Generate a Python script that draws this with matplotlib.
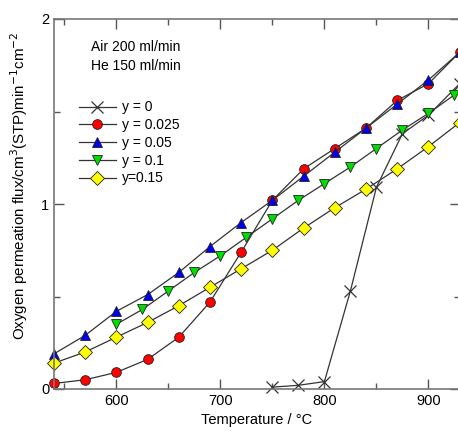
import numpy as np
import matplotlib
matplotlib.use("Agg")
import matplotlib.pyplot as plt
from matplotlib.ticker import MultipleLocator

plt.rcParams['font.family'] = ['Liberation Sans', 'DejaVu Sans']

# --- data ---
t_y0 = [750, 775, 800, 825, 850, 875, 900, 930]
f_y0 = [0.01, 0.02, 0.04, 0.53, 1.09, 1.38, 1.48, 1.65]

t_y025 = [540, 570, 600, 630, 660, 690, 720, 750, 780, 810, 840, 870, 900, 930]
f_y025 = [0.03, 0.05, 0.09, 0.16, 0.28, 0.47, 0.74, 1.02, 1.19, 1.30, 1.41, 1.56, 1.65, 1.82]

t_y05 = [540, 570, 600, 630, 660, 690, 720, 750, 780, 810, 840, 870, 900, 930]
f_y05 = [0.19, 0.29, 0.42, 0.51, 0.63, 0.77, 0.90, 1.02, 1.15, 1.28, 1.41, 1.54, 1.67, 1.82]

t_y1 = [600, 625, 650, 675, 700, 725, 750, 775, 800, 825, 850, 875, 900, 925]
f_y1 = [0.35, 0.43, 0.53, 0.63, 0.72, 0.82, 0.92, 1.02, 1.11, 1.20, 1.30, 1.40, 1.49, 1.59]

t_y15 = [540, 570, 600, 630, 660, 690, 720, 750, 780, 810, 840, 870, 900, 930]
f_y15 = [0.14, 0.20, 0.28, 0.36, 0.45, 0.55, 0.65, 0.75, 0.87, 0.98, 1.08, 1.19, 1.31, 1.44]

fig = plt.figure(figsize=(4.58, 4.33), dpi=100)
ax = fig.add_axes([54 / 458, 1 - 389 / 433, 0.8856, (389 - 19) / 433])

lc = '#333333'
common = dict(color=lc, lw=0.9, clip_on=False)
ax.plot(t_y0, f_y0, marker='x', ms=9, mew=0.9, mec='#333333', label='y = 0', **common)
ax.plot(t_y025, f_y025, marker='o', ms=7, mfc='red', mec='#222222', mew=0.6,
        label='y = 0.025', **common)
ax.plot(t_y05, f_y05, marker='^', ms=7.5, mfc='#0000ee', mec='#222222', mew=0.6,
        label='y = 0.05', **common)
ax.plot(t_y1, f_y1, marker='v', ms=7.5, mfc='#00dd00', mec='#222222', mew=0.6,
        label='y = 0.1', **common)
ax.plot(t_y15, f_y15, marker='D', ms=7, mfc='#ffff00', mec='#222222', mew=0.6,
        label='y=0.15', **common)

ax.set_xlim(540, 930)
ax.set_ylim(0, 2)
ax.xaxis.set_major_locator(MultipleLocator(100))
ax.xaxis.set_minor_locator(MultipleLocator(50))
ax.yaxis.set_major_locator(MultipleLocator(1))
ax.yaxis.set_minor_locator(MultipleLocator(0.5))
ax.tick_params(which='both', direction='in', top=True, right=True, colors='#555555',
               labelcolor='black', labelsize=10.5)
ax.tick_params(which='major', length=7, width=1)
ax.tick_params(which='minor', length=4, width=1)
for s in ax.spines.values():
    s.set_color('#777777')
    s.set_linewidth(1.2)

ax.set_xlabel('Temperature / °C', fontsize=10.5, labelpad=4)
ax.set_ylabel('Oxygen permeation flux/cm$^3$(STP)min$^{-1}$cm$^{-2}$', fontsize=10.9)
ax.yaxis.set_label_coords(-0.058, 0.55)

ax.text(0.202, 0.899, 'Air 200 ml/min\nHe 150 ml/min', transform=ax.transAxes,
        ha='center', va='center', fontsize=10, linespacing=1.5)

ax.legend(loc='upper left', bbox_to_anchor=(0.047, 0.795), frameon=False, fontsize=10,
          handlelength=2.7, handletextpad=0.45, labelspacing=0.27, borderaxespad=0)

fig.savefig('out.png', dpi=100)
